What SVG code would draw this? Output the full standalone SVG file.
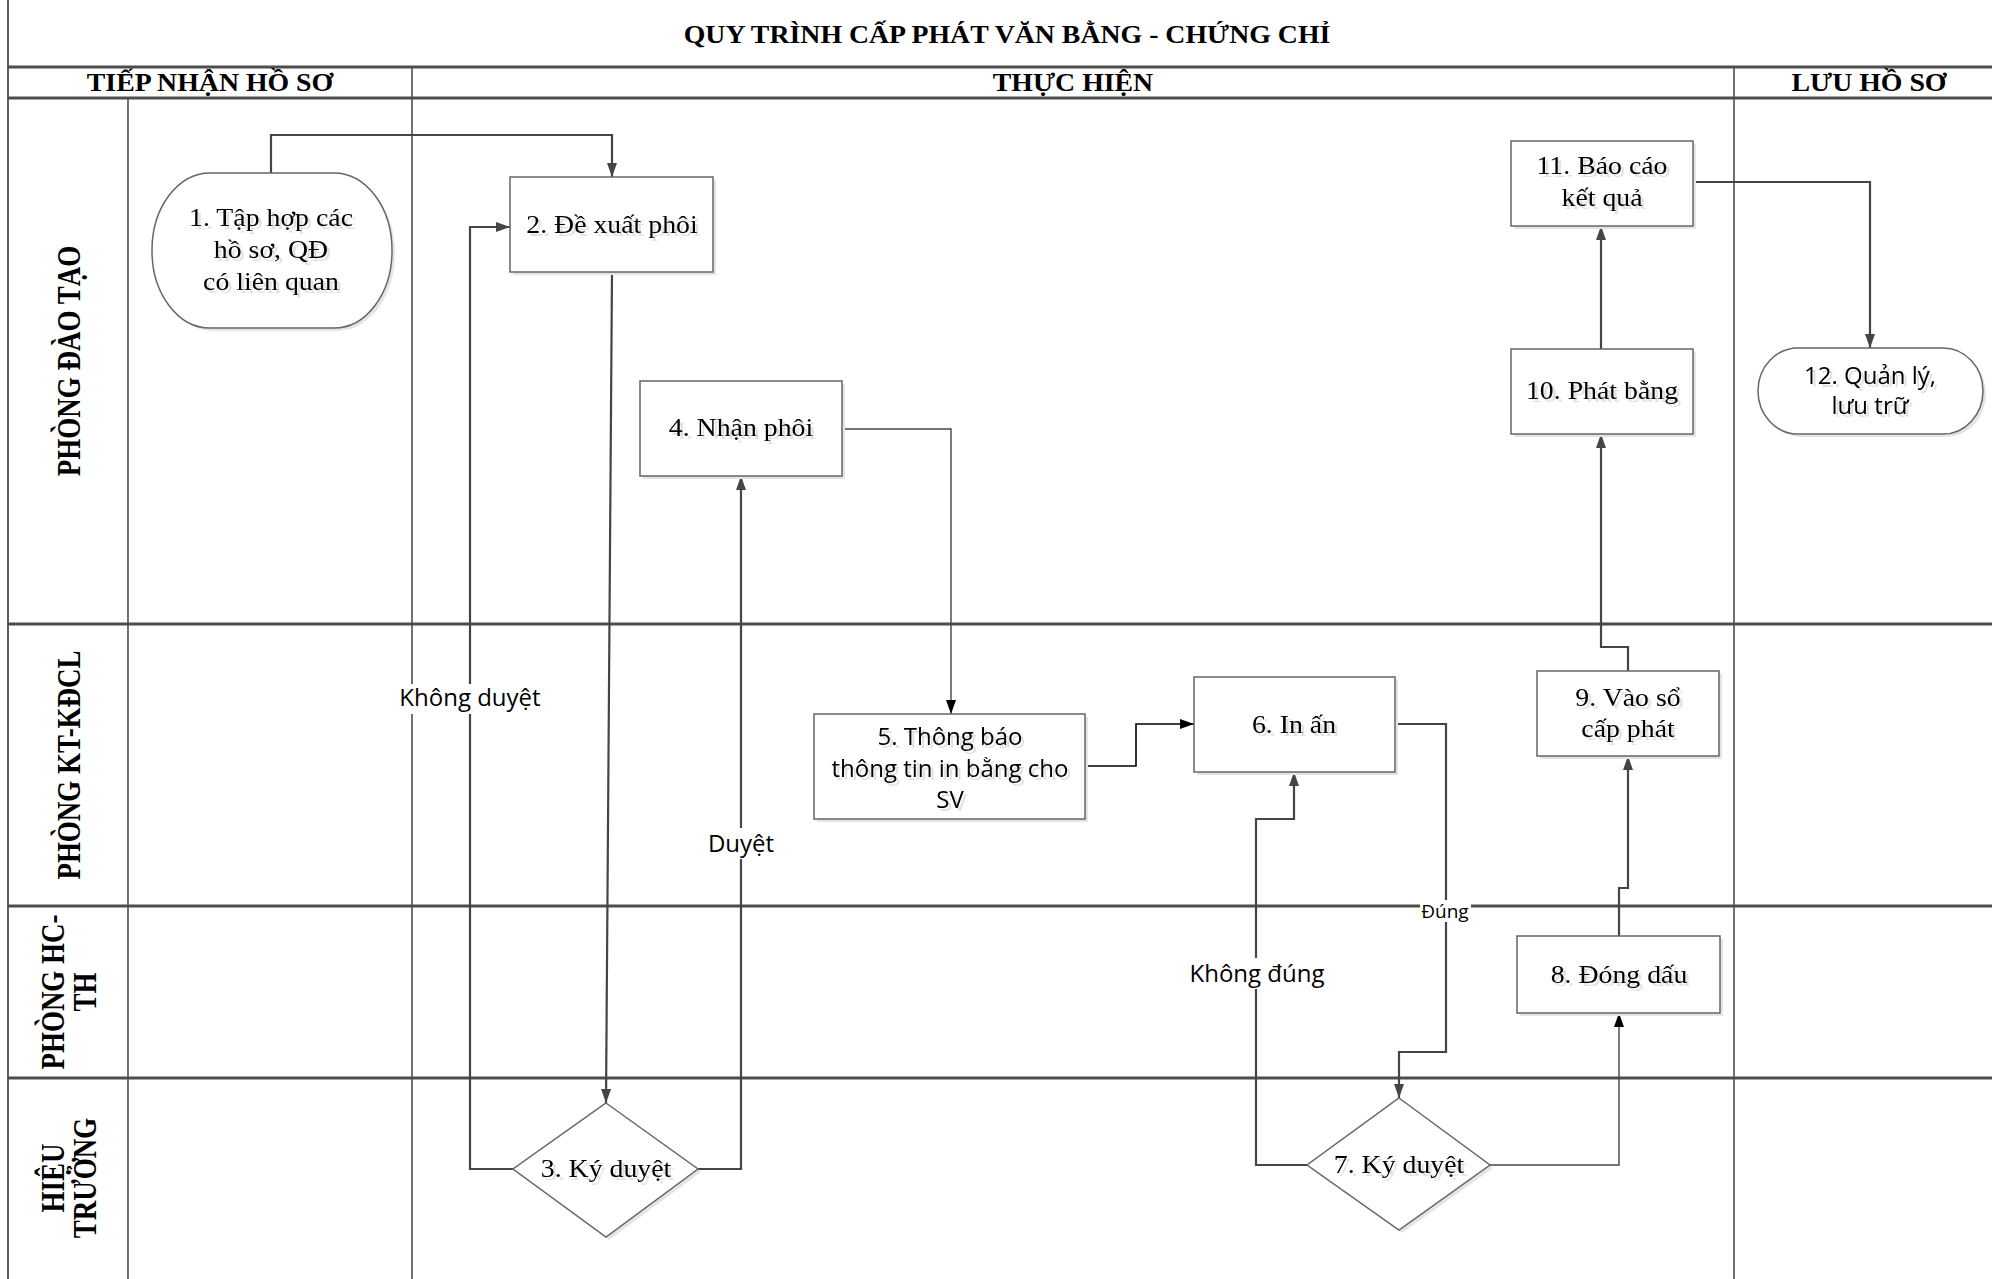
<svg xmlns="http://www.w3.org/2000/svg" width="1992" height="1279" viewBox="0 0 1992 1279">
<defs>
<style>
.frame{stroke:#4d4d4d;stroke-width:3;fill:none}
.vline{stroke:#4d4d4d;stroke-width:1.6;fill:none}
.box{fill:#fff;stroke:#666;stroke-width:1.5}
.shadow{fill:#e4e4e4}
.conn{fill:none;stroke:#454545;stroke-width:2.2}
.conn-thin{fill:none;stroke:#454545;stroke-width:1.4}
.conn-black{fill:none;stroke:#000;stroke-width:1.6}
.t{font-family:"Liberation Serif","Times New Roman",serif;font-size:26px;fill:#000;text-anchor:middle}
.s{font-family:"Open Sans","Noto Sans",sans-serif;font-size:24px;fill:#000;text-anchor:middle}
.b{font-weight:bold}
.lbg{fill:#fff}
</style>
<marker id="arr" markerWidth="14" markerHeight="10" refX="14" refY="5" orient="auto" markerUnits="userSpaceOnUse">
<path d="M0,0 L14,5 L0,10 z" fill="#454545"/>
</marker>
<marker id="arrb" markerWidth="14" markerHeight="10" refX="14" refY="5" orient="auto" markerUnits="userSpaceOnUse">
<path d="M0,0 L14,5 L0,10 z" fill="#000"/>
</marker>
<filter id="ts" x="-10%" y="-10%" width="130%" height="140%">
<feDropShadow dx="3" dy="3" stdDeviation="0.6" flood-color="#000" flood-opacity="0.12"/>
</filter>
</defs>
<rect width="1992" height="1279" fill="#fff"/>

<g id="pool">
<line class="frame" x1="8" y1="0" x2="8" y2="1279" style="stroke-width:1.8"/>
<line class="frame" x1="8" y1="67" x2="1992" y2="67"/>
<line class="frame" x1="8" y1="98" x2="1992" y2="98"/>
<line class="frame" x1="8" y1="624" x2="1992" y2="624"/>
<line class="frame" x1="8" y1="906" x2="1992" y2="906"/>
<line class="frame" x1="8" y1="1078" x2="1992" y2="1078"/>
<line class="vline" x1="128" y1="98" x2="128" y2="1279"/>
<line class="vline" x1="412" y1="67" x2="412" y2="1279"/>
<line class="vline" x1="1734" y1="67" x2="1734" y2="1279"/>
<text class="t b" transform="matrix(1.07 0 0 1 1007 0)" x="0" y="43">QUY TRÌNH CẤP PHÁT VĂN BẰNG - CHỨNG CHỈ</text>
<text class="t b" transform="matrix(1.07 0 0 1 210 0)" x="0" y="91">TIẾP NHẬN HỒ SƠ</text>
<text class="t b" transform="matrix(1.07 0 0 1 1073 0)" x="0" y="91">THỰC HIỆN</text>
<text class="t b" transform="matrix(1.07 0 0 1 1869 0)" x="0" y="91">LƯU HỒ SƠ</text>
<text class="t b" style="font-size:27px" transform="matrix(0 -1 1.22 0 0 361)" x="0" y="65.5">PHÒNG ĐÀO TẠO</text>
<text class="t b" style="font-size:27px" transform="matrix(0 -1 1.22 0 0 765)" x="0" y="65.5">PHÒNG KT-KĐCL</text>
<text class="t b" style="font-size:27px" transform="matrix(0 -1 1.22 0 0 992)"><tspan x="0" y="52.5">PHÒNG HC-</tspan><tspan x="0" y="78.5">TH</tspan></text>
<text class="t b" style="font-size:27px" transform="matrix(0 -1 1.22 0 0 1178)"><tspan x="0" y="52.5">HIỆU</tspan><tspan x="0" y="78.5">TRƯỞNG</tspan></text>
</g>

<g id="connectors">
<path class="conn" d="M271,173 V135 H612 V177" marker-end="url(#arr)"/>
<path class="conn" d="M612,272 L606,1103" marker-end="url(#arr)"/>
<path class="conn" d="M513,1169 H470 V227 H510" marker-end="url(#arr)"/>
<path class="conn" d="M698,1169 H741 V476" marker-end="url(#arr)"/>
<path class="conn-thin" d="M842,429 H951 V714" marker-end="url(#arrb)"/>
<path class="conn-black" d="M1085,766 H1136 V724 H1194" marker-end="url(#arrb)"/>
<path class="conn" d="M1395,724 H1446 V1052 H1399 V1098" marker-end="url(#arr)"/>
<path class="conn" d="M1307,1165 H1256 V819 H1294 V772" marker-end="url(#arr)"/>
<path class="conn-thin" d="M1490,1165 H1619 V1013" marker-end="url(#arrb)"/>
<path class="conn" d="M1619,936 V888 H1628 V756" marker-end="url(#arr)"/>
<path class="conn" d="M1628,671 V647 H1601 V434" marker-end="url(#arr)"/>
<path class="conn" d="M1601,349 V226" marker-end="url(#arr)"/>
<path class="conn" d="M1692,182 H1870 V348" marker-end="url(#arr)"/>
<rect class="lbg" x="398" y="684" width="144" height="30"/>
<text class="s" x="470" y="706">Không duyệt</text>
<rect class="lbg" x="706" y="828" width="70" height="31"/>
<text class="s" x="741" y="852">Duyệt</text>
<rect class="lbg" x="1420" y="900" width="51" height="22"/>
<text class="s" style="font-size:19px" x="1445" y="918">Đúng</text>
<rect class="lbg" x="1189" y="958" width="136" height="31"/>
<text class="s" x="1257" y="982">Không đúng</text>
</g>

<g id="n1">
<rect class="shadow" x="155" y="176" width="240" height="155" rx="58" ry="77"/>
<rect class="box" x="152" y="173" width="240" height="155" rx="58" ry="77"/>
<text class="t" filter="url(#ts)" transform="matrix(1.07 0 0 1 271 0)"><tspan x="0" y="226">1. Tập hợp các</tspan><tspan x="0" y="258">hồ sơ, QĐ</tspan><tspan x="0" y="290">có liên quan</tspan></text>
</g>
<g id="n2">
<rect class="shadow" x="513" y="180" width="203" height="95"/>
<rect class="box" x="510" y="177" width="203" height="95"/>
<text class="t" filter="url(#ts)" transform="matrix(1.07 0 0 1 612 0)" x="0" y="233">2. Đề xuất phôi</text>
</g>
<g id="n3">
<path class="shadow" d="M609,1106 L701,1172 L609,1240 L516,1172 z"/>
<path class="box" d="M606,1103 L698,1169 L606,1237 L513,1169 z"/>
<text class="t" filter="url(#ts)" transform="matrix(1.07 0 0 1 606 0)" x="0" y="1177">3. Ký duyệt</text>
</g>
<g id="n4">
<rect class="shadow" x="643" y="384" width="202" height="95"/>
<rect class="box" x="640" y="381" width="202" height="95"/>
<text class="t" filter="url(#ts)" transform="matrix(1.07 0 0 1 741 0)" x="0" y="436">4. Nhận phôi</text>
</g>
<g id="n5">
<rect class="shadow" x="817" y="717" width="271" height="105"/>
<rect class="box" x="814" y="714" width="271" height="105"/>
<text class="s" filter="url(#ts)"><tspan x="950" y="745">5. Thông báo</tspan><tspan x="950" y="777">thông tin in bằng cho</tspan><tspan x="950" y="808">SV</tspan></text>
</g>
<g id="n6">
<rect class="shadow" x="1197" y="680" width="201" height="95"/>
<rect class="box" x="1194" y="677" width="201" height="95"/>
<text class="t" filter="url(#ts)" transform="matrix(1.07 0 0 1 1294 0)" x="0" y="733">6. In ấn</text>
</g>
<g id="n7">
<path class="shadow" d="M1402,1101 L1493,1168 L1402,1233 L1310,1168 z"/>
<path class="box" d="M1399,1098 L1490,1165 L1399,1230 L1307,1165 z"/>
<text class="t" filter="url(#ts)" transform="matrix(1.07 0 0 1 1399 0)" x="0" y="1173">7. Ký duyệt</text>
</g>
<g id="n8">
<rect class="shadow" x="1520" y="939" width="203" height="77"/>
<rect class="box" x="1517" y="936" width="203" height="77"/>
<text class="t" filter="url(#ts)" transform="matrix(1.07 0 0 1 1619 0)" x="0" y="983">8. Đóng dấu</text>
</g>
<g id="n9">
<rect class="shadow" x="1540" y="674" width="182" height="85"/>
<rect class="box" x="1537" y="671" width="182" height="85"/>
<text class="t" filter="url(#ts)" transform="matrix(1.07 0 0 1 1628 0)"><tspan x="0" y="706">9. Vào sổ</tspan><tspan x="0" y="737">cấp phát</tspan></text>
</g>
<g id="n10">
<rect class="shadow" x="1514" y="352" width="182" height="85"/>
<rect class="box" x="1511" y="349" width="182" height="85"/>
<text class="t" filter="url(#ts)" transform="matrix(1.07 0 0 1 1602 0)" x="0" y="399">10. Phát bằng</text>
</g>
<g id="n11">
<rect class="shadow" x="1514" y="144" width="182" height="85"/>
<rect class="box" x="1511" y="141" width="182" height="85"/>
<text class="t" filter="url(#ts)" transform="matrix(1.07 0 0 1 1602 0)"><tspan x="0" y="174">11. Báo cáo</tspan><tspan x="0" y="206">kết quả</tspan></text>
</g>
<g id="n12">
<rect class="shadow" x="1761" y="351" width="225" height="86" rx="40" ry="43"/>
<rect class="box" x="1758" y="348" width="225" height="86" rx="40" ry="43"/>
<text class="s" filter="url(#ts)"><tspan x="1870" y="384">12. Quản lý,</tspan><tspan x="1870" y="414">lưu trữ</tspan></text>
</g>
</svg>
